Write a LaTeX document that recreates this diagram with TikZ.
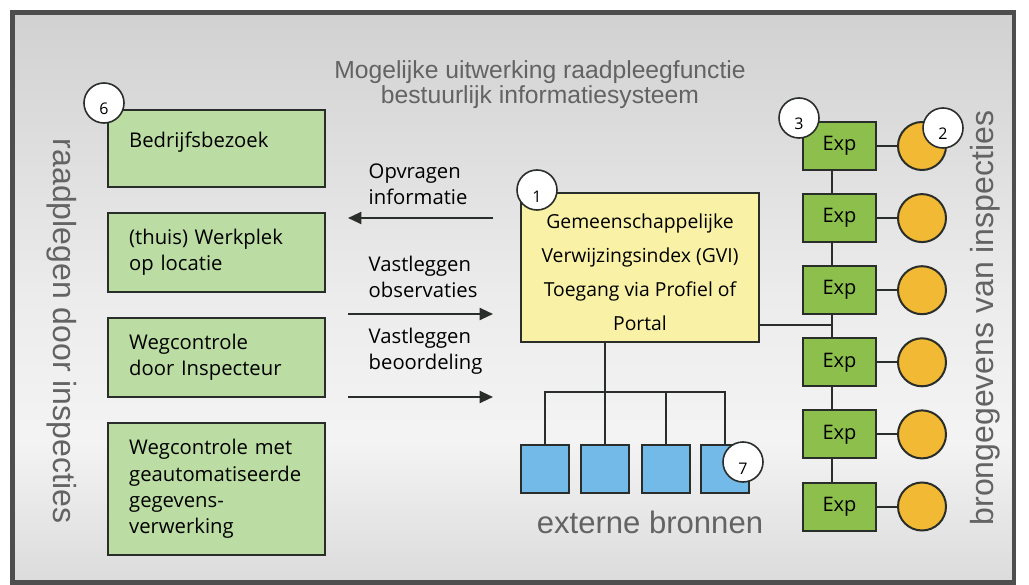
\documentclass[tikz,border=0pt]{standalone}
\usepackage{fontspec}
\setmainfont{Open Sans}
\newfontfamily\labelfont{Liberation Sans}
\usepackage{xcolor}
\usetikzlibrary{positioning,arrows.meta}

\definecolor{inspgreen}{HTML}{BBDCA3}
\definecolor{expgreen}{HTML}{8CBF4C}
\definecolor{bronyellow}{HTML}{F1B934}
\definecolor{extblue}{HTML}{74BAE8}
\definecolor{gviyellow}{HTML}{F9F2A6}
\definecolor{linedark}{HTML}{2A2E2A}
\definecolor{labelgray}{HTML}{636363}
\definecolor{framegray}{HTML}{4E4E4E}

% only 25bp (bottom) to 75bp (top) ends up inside the frame
\pgfdeclareverticalshading{framebg}{100bp}{color(0bp)=(gray!28); color(25bp)=(gray!28); color(37.5bp)=(gray!9);
    color(50bp)=(gray!15); color(75bp)=(gray!36); color(100bp)=(gray!36)}

\begin{document}
\begin{tikzpicture}[x=0.75pt, y=-0.75pt,
    wire/.style={draw=linedark, line width=1.5pt},
    flow/.style={line width=1.5pt, draw=linedark, -{Triangle[length=10pt,width=9pt]}},
    inspbox/.style={draw=linedark, line width=1.5pt, fill=inspgreen, minimum width=162.75pt,
        text width=131pt, inner xsep=15.75pt, inner ysep=0pt, align=left,
        font=\fontsize{15.2}{19.8}\selectfont},
    gvibox/.style={draw=linedark, line width=1.5pt, fill=gviyellow, minimum width=178.5pt,
        minimum height=111.75pt, align=center, font=\fontsize{14.5}{25.5}\selectfont},
    expbox/.style={draw=linedark, line width=1.5pt, fill=expgreen, minimum width=54.75pt,
        minimum height=36pt, inner sep=0pt, font=\fontsize{15}{16}\selectfont},
    bron/.style={circle, draw=linedark, line width=1.5pt, fill=bronyellow, minimum size=36pt, inner sep=0pt},
    extbox/.style={draw=linedark, line width=1.5pt, fill=extblue, minimum size=36pt, inner sep=0pt},
    numcirc/.style={circle, draw=linedark, line width=1.2pt, fill=white, minimum size=30pt, inner sep=0pt,
        text height=18pt, text depth=0pt, font=\fontsize{12}{12}\selectfont},
    flowtext/.style={anchor=west, align=left, font=\fontsize{15.2}{19.5}\selectfont},
    biglabel/.style={text=labelgray, font=\labelfont\fontsize{24}{24}\selectfont}
]
    \def\expx{839.5}
    \def\bronx{922}
    \def\step{72.1}

    \useasboundingbox (0,0) rectangle (1029,585);
    \shade[shading=framebg] (12.5,12.5) rectangle (1014,582.5);
    \draw[draw=framegray, line width=3.5pt] (12.5,12.5) rectangle (1014,582.5);

    \node[text=labelgray, align=center, font=\labelfont\fontsize{18.5}{18.75}\selectfont] (title)
        at (540,84.5) {Mogelijke uitwerking raadpleegfunctie\\bestuurlijk informatiesysteem};

    % raadplegen
    \node[inspbox, minimum height=57.75pt, text height=10pt, text depth=11pt] (bezoek) at (216.5,148.5) {Bedrijfsbezoek};
    \node[inspbox, minimum height=59.25pt] (werkplek) at (216.5,252.5) {(thuis)~Werkplek\\op locatie};
    \node[inspbox, minimum height=59.25pt] (weginsp) at (216.5,357.5) {Wegcontrole\\door~Inspecteur};
    \node[inspbox, minimum height=99pt] (wegauto) at (216.5,489) {Wegcontrole~met\\geautomatiseerde\\gegevens-\\verwerking};

    \node[biglabel, rotate=-90] (raadplegen) at (62,331) {raadplegen door inspecties};

    % GVI
    \node[gvibox] (gvi) at (640,267.5) {\rule{0pt}{18pt}Gemeenschappelijke\\Verwijzingsindex (GVI)\\Toegang via Profiel of\\Portal};

    \node[flowtext] (opvragen) at (364,184) {Opvragen\\informatie};
    \node[flowtext] (observaties) at (364,277) {Vastleggen\\observaties};
    \node[flowtext] (beoordeling) at (364,351.5) {Vastleggen\\beoordeling};

    \coordinate (infofrom) at (493,218);
    \coordinate (infoto) at (348,218);
    \coordinate (obsfrom) at (348,314);
    \coordinate (obsto) at (493,314);
    \coordinate (beofrom) at (348,397);
    \coordinate (beoto) at (493,397);
    \draw[flow] (infofrom) -- (infoto);
    \draw[flow] (obsfrom) -- (obsto);
    \draw[flow] (beofrom) -- (beoto);

    % brongegevens
    \foreach \i in {1,...,6} {
        \node[expbox] (exp\i) at (\expx,{146+\step*(\i-1)}) {Exp};
        \node[bron] (bron\i) at (\bronx,{146+\step*(\i-1)}) {};
        \draw[wire] (exp\i) -- (bron\i);
    }
    \foreach \i [count=\j from 2] in {1,...,5}
        \draw[wire] ([xshift=-5.6pt]exp\i.south) -- ([xshift=-5.6pt]exp\j.north);

    \coordinate (tap) at (832,325);
    \draw[wire] (gvi.east |- tap) -- (tap);

    \node[biglabel, rotate=90] (brongegevens) at (985,318) {brongegevens van inspecties};

    % externe bronnen
    \foreach \i/\x in {1/545,2/605,3/665.5,4/725}
        \node[extbox] (ext\i) at (\x,468.5) {};
    \coordinate (bus) at (0,392);
    \draw[wire] (gvi.south -| ext2) -- (ext2.north);
    \draw[wire] (ext1.north) -- (ext1.north |- bus) -- (ext4.north |- bus) -- (ext4.north);
    \draw[wire] (ext3.north) -- (ext3.north |- bus);

    \node[biglabel, font=\labelfont\fontsize{23.3}{24}\selectfont] (extern) at (650,522.5) {externe bronnen};

    \node[numcirc] (n6) at (104,103) {6};
    \node[numcirc] (n1) at (537,190) {1};
    \node[numcirc] (n3) at (799,118) {3};
    \node[numcirc] (n2) at (943,128) {2};
    \node[numcirc] (n7) at (743,462) {7};

\end{tikzpicture}
\end{document}
